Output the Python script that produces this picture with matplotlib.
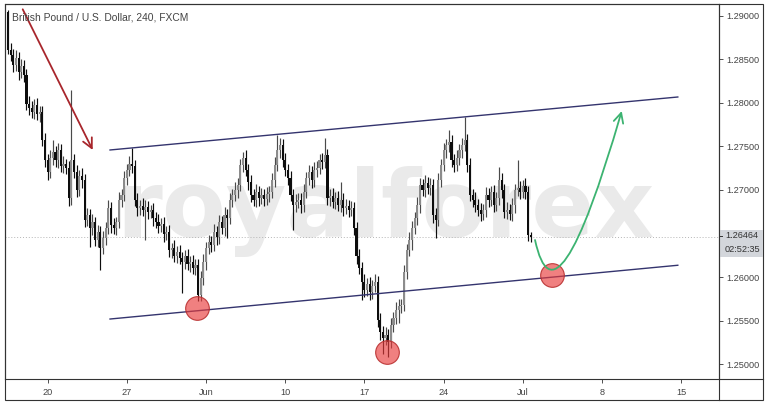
import numpy as np
import matplotlib
matplotlib.use("Agg")
import matplotlib.pyplot as plt
from matplotlib.patches import FancyArrowPatch, Rectangle
from matplotlib.path import Path
from matplotlib.lines import Line2D

# ---------------- data ----------------
title = "British Pound / U.S. Dollar, 240, FXCM"
watermark = "royalforex"
first_open = 1.2905
closes = [
    1.2861, 1.2855, 1.2844, 1.2852, 1.2836, 1.2843, 1.2832, 1.2799, 1.2794, 1.2790,
    1.2798, 1.2787, 1.2790, 1.2757, 1.2734, 1.2721, 1.2737, 1.2744, 1.2734, 1.2746,
    1.2728, 1.2730, 1.2725, 1.2691, 1.2734, 1.2721, 1.2700, 1.2716, 1.2711, 1.2666,
    1.2671, 1.2656, 1.2663, 1.2643, 1.2652, 1.2633, 1.2645, 1.2656, 1.2679, 1.2660,
    1.2656, 1.2663, 1.2689, 1.2694, 1.2714, 1.2723, 1.2730, 1.2728, 1.2689, 1.2679,
    1.2682, 1.2677, 1.2680, 1.2675, 1.2677, 1.2668, 1.2663, 1.2659, 1.2661, 1.2649,
    1.2652, 1.2631, 1.2633, 1.2624, 1.2629, 1.2622, 1.2617, 1.2624, 1.2615, 1.2617,
    1.2610, 1.2614, 1.2579, 1.2599, 1.2617, 1.2633, 1.2640, 1.2637, 1.2652, 1.2646,
    1.2663, 1.2656, 1.2671, 1.2668, 1.2689, 1.2694, 1.2700, 1.2706, 1.2729, 1.2737,
    1.2723, 1.2709, 1.2694, 1.2689, 1.2698, 1.2691, 1.2694, 1.2690, 1.2695, 1.2698,
    1.2711, 1.2729, 1.2746, 1.2752, 1.2734, 1.2723, 1.2714, 1.2694, 1.2683, 1.2686,
    1.2689, 1.2683, 1.2698, 1.2714, 1.2721, 1.2711, 1.2723, 1.2725, 1.2734, 1.2732,
    1.2740, 1.2691, 1.2693, 1.2686, 1.2691, 1.2683, 1.2689, 1.2679, 1.2682, 1.2677,
    1.2679, 1.2656, 1.2624, 1.2610, 1.2594, 1.2585, 1.2592, 1.2583, 1.2590, 1.2594,
    1.2551, 1.2537, 1.2530, 1.2533, 1.2525, 1.2545, 1.2553, 1.2562, 1.2567, 1.2568,
    1.2606, 1.2631, 1.2643, 1.2656, 1.2668, 1.2683, 1.2706, 1.2700, 1.2708, 1.2702,
    1.2706, 1.2671, 1.2666, 1.2711, 1.2729, 1.2746, 1.2752, 1.2755, 1.2734, 1.2729,
    1.2737, 1.2746, 1.2752, 1.2757, 1.2729, 1.2694, 1.2689, 1.2683, 1.2677, 1.2672,
    1.2677, 1.2694, 1.2689, 1.2698, 1.2683, 1.2691, 1.2711, 1.2700, 1.2675, 1.2677,
    1.2672, 1.2683, 1.2700, 1.2702, 1.2698, 1.2705, 1.2698, 1.2648, 1.26464,
]
upper_wick_pips = [
    2, 8, 7, 9, 7, 8, 6, 7, 9, 8,
    7, 8, 6, 7, 8, 7, 9, 13, 7, 8,
    7, 9, 6, 8, 81, 7, 8, 7, 9, 7,
    8, 7, 9, 6, 8, 7, 8, 7, 9, 7,
    8, 6, 9, 7, 8, 7, 9, 18, 7, 8,
    7, 9, 8, 7, 6, 8, 7, 9, 7, 8,
    7, 8, 6, 9, 7, 8, 7, 7, 8, 7,
    8, 7, 7, 8, 9, 7, 8, 7, 9, 7,
    8, 7, 9, 7, 8, 7, 9, 8, 7, 7,
    9, 7, 8, 7, 9, 7, 8, 7, 9, 7,
    8, 9, 17, 8, 7, 9, 7, 8, 7, 9,
    7, 8, 9, 7, 8, 7, 9, 8, 7, 8,
    20, 7, 8, 9, 7, 8, 20, 7, 8, 7,
    8, 7, 7, 8, 7, 9, 7, 8, 7, 9,
    7, 8, 7, 9, 7, 8, 7, 9, 8, 7,
    8, 7, 9, 8, 7, 9, 8, 7, 9, 7,
    8, 7, 8, 9, 7, 8, 7, 14, 8, 7,
    9, 7, 8, 27, 7, 8, 7, 9, 7, 8,
    7, 9, 8, 7, 8, 7, 15, 8, 7, 9,
    7, 8, 7, 32, 8, 7, 9, 7, 4,
]
lower_wick_pips = [
    5, 7, 8, 7, 10, 7, 8, 7, 8, 7,
    8, 7, 9, 7, 8, 9, 7, 8, 7, 9,
    7, 8, 7, 9, 8, 7, 8, 7, 9, 8,
    7, 21, 8, 7, 8, 25, 7, 8, 7, 9,
    7, 8, 7, 9, 7, 8, 7, 8, 7, 9,
    8, 7, 35, 8, 7, 9, 7, 8, 7, 9,
    7, 8, 9, 7, 8, 7, 35, 8, 7, 9,
    7, 8, 7, 7, 8, 9, 7, 8, 7, 9,
    8, 7, 9, 23, 7, 8, 7, 9, 7, 8,
    7, 9, 8, 7, 8, 9, 7, 8, 7, 9,
    7, 8, 7, 9, 8, 7, 8, 7, 29, 8,
    7, 9, 8, 7, 8, 9, 7, 8, 7, 8,
    7, 8, 9, 7, 8, 7, 8, 9, 7, 8,
    7, 8, 9, 7, 20, 8, 7, 9, 8, 7,
    8, 9, 18, 8, 17, 7, 8, 7, 15, 8,
    7, 8, 7, 12, 7, 8, 9, 7, 8, 7,
    8, 9, 21, 7, 8, 7, 9, 8, 7, 8,
    7, 8, 9, 7, 8, 7, 9, 8, 7, 8,
    7, 8, 9, 7, 8, 7, 8, 9, 7, 8,
    7, 8, 9, 7, 8, 7, 8, 7, 6,
]
week_labels = ["20", "27", "Jun", "10", "17", "24", "Jul", "8", "15"]
first_week_bar = 15
bars_per_week = 30
price_ticks = [1.25, 1.255, 1.26, 1.265, 1.27, 1.275, 1.28, 1.285, 1.29]
last_price = 1.26464
countdown = "02:52:35"

upper_channel_x = [38.64, 253.7]
upper_channel_y = [1.27460, 1.28069]
lower_channel_x = [38.64, 253.7]
lower_channel_y = [1.25517, 1.26135]
touch_x = [71.6, 143.6, 206.1]
touch_y = [1.25644, 1.25138, 1.26023]
down_arrow_start = (5.57, 1.29077)
down_arrow_end = (32.08, 1.27460)
forecast_x = [199.62, 207.58, 232.46]
forecast_y = [1.26425, 1.25299, 1.27908]

# ---------------- figure ----------------
W, H = 768, 404
fig = plt.figure(figsize=(W / 100, H / 100), dpi=100)


def px_rect(x0, y0, x1, y1):
    return [x0 / W, 1 - y1 / H, (x1 - x0) / W, (y1 - y0) / H]


ax = fig.add_axes(px_rect(5, 4, 719, 379))
ax.set_xlim(-1.14, 269.3)
ax.set_ylim(1.248276, 1.291379)

c = np.array(closes)
o = np.concatenate([[first_open], c[:-1]])
hi = np.maximum(o, c) + np.array(upper_wick_pips) / 10000.0
lo = np.minimum(o, c) - np.array(lower_wick_pips) / 10000.0
x = np.arange(len(c))
up = c >= o
body_col = np.where(up, "#8c8c8c", "#0d0d0d")
wick_col = np.where(up, "#4a4a4a", "#0d0d0d")

# watermark
ax.text((385 - 5) / 714, (379 - 237) / 375, watermark, transform=ax.transAxes,
        ha="center", va="baseline", fontsize=67, fontweight="bold",
        color="#eaeaea", zorder=0, family="DejaVu Sans")

ax.axhline(last_price, color="#b5b5b5", lw=0.7, ls=(0, (1, 2)), zorder=0.5)

ax.vlines(x, lo, hi, colors=wick_col, lw=0.85, zorder=2)
heights = np.maximum(np.abs(c - o), 0.00008)
ax.bar(x, heights, bottom=np.minimum(o, c), width=0.8, color=body_col,
       linewidth=0, zorder=3)

# channel lines
line_col = "#34346e"
ax.plot(upper_channel_x, upper_channel_y, color=line_col, lw=1.0, zorder=4)
ax.plot(lower_channel_x, lower_channel_y, color=line_col, lw=1.0, zorder=4)

# touch circles
ax.scatter(touch_x, touch_y, s=290, facecolor=(0.91, 0.235, 0.235, 0.65),
           edgecolor=(0.72, 0.18, 0.18, 0.9), linewidth=0.8, zorder=6)

# red down arrow
ax.annotate("", xy=down_arrow_end, xytext=down_arrow_start,
            arrowprops=dict(arrowstyle="->,head_length=0.7,head_width=0.35",
                            color="#a8262c", lw=1.3, shrinkA=0, shrinkB=0),
            zorder=7)

# green forecast curve
verts = list(zip(forecast_x, forecast_y))
path = Path(verts, [Path.MOVETO, Path.CURVE3, Path.CURVE3])
green = FancyArrowPatch(path=path, arrowstyle="->,head_length=0.7,head_width=0.35",
                        mutation_scale=10, color="#3cb371", lw=1.3,
                        transform=ax.transData, zorder=7)
ax.add_patch(green)

# axes styling
for s in ax.spines.values():
    s.set_color("#333333")
    s.set_linewidth(0.8)
ax.yaxis.tick_right()
ax.set_yticks(price_ticks)
ax.set_yticklabels([f"{v:.5f}" for v in price_ticks])
ax.tick_params(axis="y", length=3, width=0.6, colors="#333333", labelsize=6.6,
               pad=2, labelcolor="#444444")
for t in ax.get_yticklabels():
    t.set_family("Liberation Sans")
xt = [first_week_bar + bars_per_week * k for k in range(len(week_labels))]
ax.set_xticks(xt)
ax.set_xticklabels(week_labels)
ax.tick_params(axis="x", length=3, width=0.6, colors="#333333", labelsize=6.6,
               pad=3.5, labelcolor="#444444")
for t in ax.get_xticklabels():
    t.set_family("Liberation Sans")

# title
fig.text(12 / W, 1 - 17 / H, title, fontsize=7.4, family="Liberation Sans",
         color="#444444", va="center", ha="left")

# outer frame and separators
fig.add_artist(Rectangle((5 / W, 1 - 400 / H), 758 / W, 396 / H, fill=False,
                         edgecolor="#333333", lw=0.8, transform=fig.transFigure))
fig.add_artist(Line2D([719 / W, 719 / W], [1 - 400 / H, 1 - 4 / H], color="#333333",
                      lw=0.8, transform=fig.transFigure))
fig.add_artist(Line2D([719 / W, 763 / W], [1 - 379 / H, 1 - 379 / H], color="#333333",
                      lw=0.8, transform=fig.transFigure))

# last price / countdown labels
fig.add_artist(Rectangle((720 / W, 1 - 257 / H), 43 / W, 27 / H, facecolor="#d3d6db",
                         edgecolor="none", transform=fig.transFigure))
fig.add_artist(Line2D([719 / W, 722 / W], [1 - 236 / H, 1 - 236 / H], color="#333333",
                      lw=0.7, transform=fig.transFigure))
fig.text(742 / W, 1 - 236 / H, f"{last_price:.5f}", fontsize=6.6, family="Liberation Sans",
         color="#333333", ha="center", va="center")
fig.text(742 / W, 1 - 250 / H, countdown, fontsize=6.6, family="Liberation Sans",
         color="#333333", ha="center", va="center")

fig.savefig("out.png", dpi=100)
